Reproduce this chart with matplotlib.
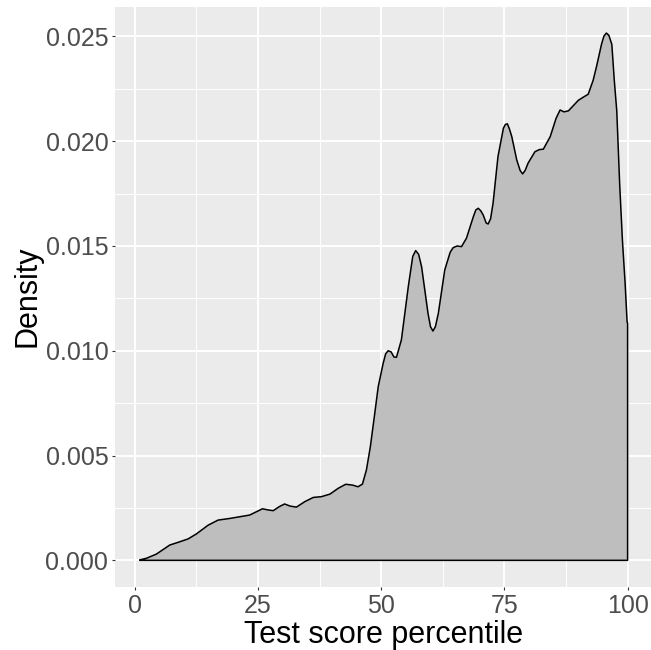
import numpy as np
import matplotlib
matplotlib.use("Agg")
from matplotlib import pyplot as plt
from matplotlib.ticker import FixedLocator, FormatStrFormatter

plt.rcParams['font.family'] = ['Liberation Sans', 'DejaVu Sans']

# density curve (percentile, density)
percentile = [1.0, 2.4, 4.4, 7.1, 8.8, 10.8, 12.5, 14.9, 16.9, 19.3,
              21.3, 23.3, 24.7, 25.9, 27.2, 28.1, 29.3, 30.4, 31.5, 32.8,
              34.5, 36.2, 37.9, 39.6, 41.3, 42.8, 44.2, 45.3, 46.2, 47.0,
              47.8, 48.7, 49.4, 50.4, 50.9, 51.4, 52.0, 52.6, 53.1, 54.1,
              55.5, 56.4, 57.0, 57.6, 58.2, 59.5, 60.0, 60.5, 61.0, 61.6,
              62.9, 64.0, 64.6, 65.4, 66.3, 67.3, 68.7, 69.2, 69.7, 70.2,
              70.7, 71.3, 71.7, 72.2, 72.7, 73.7, 74.8, 75.2, 75.6, 76.0,
              76.5, 77.5, 78.2, 78.7, 79.2, 79.8, 81.2, 82.1, 82.9, 84.3,
              85.5, 86.3, 87.1, 88.0, 89.0, 90.0, 91.0, 92.0, 93.0, 93.7,
              94.7, 95.2, 95.7, 96.2, 96.8, 97.3, 97.8, 98.4, 98.95, 99.5,
              99.9, 100.0]
density = [0.00002, 0.0001, 0.0003, 0.00073, 0.00086, 0.00102, 0.00126, 0.00168, 0.00192, 0.0020,
           0.00208, 0.00216, 0.00232, 0.00246, 0.0024, 0.00237, 0.00256, 0.00269, 0.00259, 0.00254,
           0.0028, 0.0030, 0.00304, 0.00316, 0.00344, 0.00363, 0.00359, 0.00351, 0.00364, 0.00431,
           0.00542, 0.00702, 0.00829, 0.0094, 0.00985, 0.0100, 0.00995, 0.0097, 0.00969, 0.01052,
           0.01306, 0.0145, 0.01478, 0.0146, 0.01401, 0.01179, 0.01115, 0.01094, 0.01115, 0.01179,
           0.01386, 0.0147, 0.01492, 0.015, 0.01497, 0.01537, 0.0164, 0.01672, 0.0168, 0.01668,
           0.01648, 0.0161, 0.01605, 0.0163, 0.01704, 0.01927, 0.02062, 0.0208, 0.02083, 0.0206,
           0.02022, 0.01911, 0.0186, 0.01844, 0.0186, 0.01895, 0.0195, 0.0196, 0.01962, 0.02022,
           0.0211, 0.02149, 0.0214, 0.02145, 0.0217, 0.02195, 0.0221, 0.02224, 0.0229, 0.02357,
           0.02462, 0.02502, 0.02516, 0.02505, 0.02462, 0.0229, 0.02145, 0.0179, 0.01527, 0.0132,
           0.01138, 0.0113]

x_breaks = [0, 25, 50, 75, 100]
y_breaks = [0.000, 0.005, 0.010, 0.015, 0.020, 0.025]

x = np.array(percentile)
y = np.array(density)

fig = plt.figure(figsize=(6.51, 6.5), dpi=100)
ax = fig.add_axes([115.3 / 651, 63.3 / 650, (652 - 115.3) / 651, 580 / 650])
ax.set_facecolor("#EBEBEB")

# closed polygon like ggplot's full outline
px = np.concatenate([[x[0]], x, [x[-1]]])
py = np.concatenate([[0], y, [0]])
ax.fill(px, py, facecolor="#BEBEBE", edgecolor="black", linewidth=1.1,
        joinstyle="round", zorder=3)

xr = x.max() - x.min()
ax.set_xlim(x.min() - 0.05 * xr, x.max() + 0.05 * xr)
ax.set_ylim(-0.05 * y.max(), 1.05 * y.max())

ax.xaxis.set_major_locator(FixedLocator(x_breaks))
ax.yaxis.set_major_locator(FixedLocator(y_breaks))
ax.xaxis.set_minor_locator(FixedLocator([12.5, 37.5, 62.5, 87.5]))
ax.yaxis.set_minor_locator(FixedLocator([0.0025, 0.0075, 0.0125, 0.0175, 0.0225]))
ax.yaxis.set_major_formatter(FormatStrFormatter("%.3f"))

ax.grid(which="major", color="white", linewidth=1.4)
ax.grid(which="minor", color="white", linewidth=0.7)
ax.set_axisbelow(True)
for s in ax.spines.values():
    s.set_visible(False)

ax.tick_params(which="major", length=2.5, width=0.8, color="#333333",
               labelcolor="#4D4D4D", labelsize=18, pad=2.5)
ax.tick_params(which="minor", length=0)

ax.set_xlabel("Test score percentile", fontsize=22, color="black", labelpad=1.5)
ax.set_ylabel("Density", fontsize=22, color="black", labelpad=2)

plt.savefig("out.png", dpi=100)
